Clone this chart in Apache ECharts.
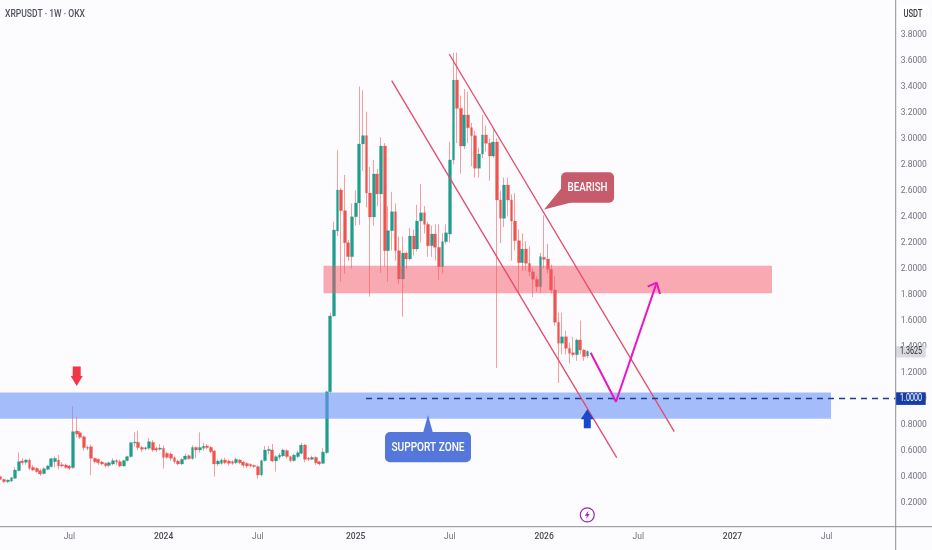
<!DOCTYPE html>
<html><head><meta charset="utf-8">
<style>html,body{margin:0;padding:0;background:#fcfcfe}#c{width:932px;height:550px}</style>
<script src="https://cdn.jsdelivr.net/npm/echarts@6/dist/echarts.min.js"></script>
</head><body><div id="c"></div>
<script>
const opens=[.399,.378,.36,.365,.386,.445,.519,.509,.527,.47,.463,.445,.422,.455,.476,.514,.527,.491,.488,.481,
.468,.75,.737,.706,.617,.629,.54,.532,.511,.501,.486,.496,.522,.514,.481,.522,.553,.658,.663,.624,
.612,.617,.663,.617,.609,.617,.578,.573,.545,.519,.496,.532,.56,.537,.624,.604,.617,.635,.624,.596,
.496,.501,.527,.519,.514,.506,.527,.511,.501,.494,.486,.476,.412,.522,.599,.604,.519,.547,.558,.599,
.553,.522,.553,.578,.642,.542,.532,.547,.514,.501,.583,1.052,1.635,2.288,2.604,2.445,2.198,2.091,2.398,2.504,
2.958,3.022,2.581,2.396,2.727,2.573,2.942,2.137,2.291,2.437,2.137,1.919,2.119,2.073,2.25,2.15,2.365,2.429,2.34,2.175,
2.265,2.163,2.014,2.206,2.265,2.835,3.45,3.232,2.942,3.181,3.083,3.022,2.771,2.881,3.027,2.965,2.865,2.973,2.527,2.386,
2.642,2.527,2.365,2.214,2.045,2.15,2.04,1.975,1.917,1.86,2.086,2.073,1.994,1.835,1.586,1.425,1.475,1.386,1.352,1.337,
1.45,1.373,1.327];
const closes=[.378,.36,.373,.391,.45,.514,.506,.527,.463,.45,.437,.419,.46,.481,.537,.54,.481,.481,.47,.463,
.745,.727,.701,.622,.624,.54,.514,.506,.496,.483,.506,.522,.511,.481,.522,.553,.66,.665,.622,.609,
.622,.668,.604,.604,.619,.547,.547,.54,.514,.496,.532,.558,.537,.624,.604,.624,.635,.622,.591,.496,
.519,.527,.506,.501,.501,.532,.506,.486,.481,.481,.476,.412,.522,.604,.609,.519,.553,.565,.604,.553,
.522,.565,.583,.642,.532,.532,.547,.506,.496,.588,1.052,1.635,2.296,2.604,2.445,2.198,2.091,2.398,2.504,2.958,
3.022,2.581,2.396,2.727,2.573,2.942,2.137,2.291,2.437,2.137,1.919,2.119,2.073,2.25,2.15,2.365,2.429,2.34,2.175,2.265,
2.163,2.014,2.206,2.275,2.835,3.45,3.232,2.942,3.181,3.083,3.022,2.771,2.881,3.027,2.963,2.865,2.973,2.527,2.386,2.642,
2.527,2.365,2.214,2.045,2.15,2.04,1.975,1.917,1.86,2.091,2.07,1.994,1.835,1.586,1.425,1.475,1.386,1.348,1.337,1.45,
1.373,1.322,1.3625];
const lows=[.372,.352,.35,.358,.38,.44,.49,.49,.45,.44,.43,.405,.415,.45,.47,.47,.455,.47,.46,.45,
.46,.7,.69,.6,.6,.41,.5,.49,.485,.47,.47,.485,.49,.47,.475,.515,.545,.63,.6,.59,
.6,.605,.59,.59,.6,.46,.535,.52,.5,.485,.49,.525,.53,.53,.54,.585,.6,.61,.58,.4,
.48,.49,.495,.485,.49,.495,.495,.47,.465,.47,.465,.385,.4,.515,.57,.51,.437,.53,.55,.54,
.51,.515,.54,.57,.51,.52,.525,.49,.485,.495,.575,1.04,1.63,2.25,1.898,1.96,2.06,2,2.33,2.335,
2.75,2.47,1.783,2.33,2.48,1.965,2.014,1.898,2.14,2.06,1.88,1.63,2,2.06,2.1,2.13,2.2,2.27,2.09,2.09,
2.06,1.91,1.96,2.19,2.2,2.8,2.965,2.73,2.92,2.965,2.785,2.7,2.7,2.85,2.9,2.675,2.85,1.235,2.195,2.32,
2.4,2.06,2.14,1.81,1.98,1.98,1.94,1.78,1.82,1.81,2,1.96,1.81,1.56,1.12,1.34,1.34,1.27,1.32,1.29,
1.34,1.29,1.31];
const highs=[.405,.382,.378,.397,.47,.585,.54,.535,.54,.49,.47,.46,.47,.49,.545,.555,.565,.51,.5,.49,
.94,.86,.75,.715,.64,.645,.545,.54,.52,.51,.515,.54,.535,.53,.53,.56,.665,.74,.753,.635,
.63,.695,.68,.63,.65,.64,.59,.585,.555,.53,.54,.575,.57,.64,.63,.74,.66,.65,.635,.605,
.53,.54,.545,.53,.525,.545,.535,.52,.51,.5,.49,.485,.53,.635,.635,.65,.565,.58,.615,.61,
.56,.575,.6,.66,.65,.55,.56,.555,.52,.62,1.06,1.66,2.36,2.91,2.62,2.72,2.22,2.5,2.6,3.4,
3.37,3.206,2.78,2.835,2.765,3.01,2.965,2.48,2.59,2.5,2.245,2.245,2.13,2.31,2.3,2.49,2.65,2.48,2.36,2.33,
2.34,2.34,2.27,2.34,2.975,3.66,3.66,3.33,3.38,3.36,3.12,3.06,2.93,3.18,3.1,3,3.07,3,2.6,2.7,
2.7,2.57,2.58,2.3,2.27,2.21,2.17,2,1.94,2.12,2.41,2.19,2.03,1.94,1.66,1.66,1.52,1.43,1.475,1.46,
1.6,1.38,1.37];

const tickWeeks=[19,45,71,98,124,150,176,202,228];
const tickLabels=['Jul','2024','Jul','2025','Jul','2026','Jul','2027','Jul'];
const priceTicks=[.2,.4,.6,.8,1,1.2,1.4,1.6,1.8,2,2.2,2.4,2.6,2.8,3,3.2,3.4,3.6,3.8];
const weekCount=247;

// overlays: [week, price] anchors on the hidden week axis
const zones=[[-.5,229.2,1.046,.845,'rgba(105,147,247,.6)'],[89.13,212.9,2.021,1.81,'rgba(244,85,100,.5)']];
const channelUpper=[[123.85,3.648],[185.94,.745]];
const channelLower=[[107.95,3.445],[170.05,.545]];
const projection=[[162.87,1.352],[169.85,.975],[181.09,1.891]];
const projectionHead=[[178.6,1.86],[181.09,1.891],[182,1.804]];
const supportLevel=[[100.86,1],[247.05,1]];
const lastPrice=1.3625, levelPrice=1;

const FONT='Roboto,"Liberation Sans",sans-serif';
const GREEN='#1f9e8f',RED='#ef5350';
const candles=opens.map((o,i)=>[o,closes[i],lows[i],highs[i]]);
const bodies=opens.map((o,i)=>[o,closes[i],Math.min(o,closes[i]),Math.max(o,closes[i])]);
const categories=Array.from({length:weekCount},(_,i)=>'W'+i);

const mctx=document.createElement('canvas').getContext('2d');
function fitted(text,font,width,x,y,fill,align){
  // a text element squeezed sideways to the condensed width of the reference typeface
  mctx.font=font;
  return {type:'text',x,y,scaleX:width/mctx.measureText(text).width,silent:true,
    style:{x:0,y:0,text,fill,font,align:align||'center',verticalAlign:'middle'}};
}
function overlayLine(data,color,width,extra){
  return Object.assign({type:'line',xAxisIndex:1,data,symbol:'none',silent:true,z:6,clip:false,
    lineStyle:{color,width}},extra||{});
}
function callout(x,y,bx,by,bw,bh,r,base,fill,text,tw){
  return {type:'group',children:[
    {type:'rect',shape:{x:bx,y:by,width:bw,height:bh,r},style:{fill}},
    {type:'polygon',shape:{points:[[x,y],base[0],base[1]]},style:{fill}},
    fitted(text,'500 13px '+FONT,tw,bx+bw/2,by+bh/2+.5,'#fff')
  ]};
}
function customOverlay(data,renderItem,z){
  return {type:'custom',xAxisIndex:1,data,renderItem,silent:true,z:z||7,clip:false,
    encode:{x:0,y:1}};
}

const chart=echarts.init(document.getElementById('c'),null,{renderer:'canvas'});
chart.setOption({
  animation:false,backgroundColor:'#fcfcfe',
  grid:{left:-1.28,top:-17.5,width:895,height:546,containLabel:false,outerBoundsMode:'none'},
  xAxis:[
    {type:'category',data:categories,boundaryGap:true,
      axisLine:{show:false},axisTick:{show:false},splitLine:{show:false},
      axisLabel:{margin:4,fontFamily:FONT,fontSize:8.5,color:'#70737e',hideOverlap:false,
        interval:(i)=>tickWeeks.includes(i),
        formatter:(v,i)=>{const l=tickLabels[tickWeeks.indexOf(i)];return l==='Jul'?l:'{y|'+l+'}';},
        rich:{y:{fontFamily:FONT,fontSize:8.5,fontWeight:500,color:'#45484f'}}}},
    {type:'value',show:false,min:-.5,max:246.5}
  ],
  yAxis:{type:'value',position:'right',min:0,max:4.2,interval:.2,offset:2,
    axisLine:{show:false},axisTick:{show:false},splitLine:{show:false},
    axisLabel:{margin:5,fontFamily:FONT,fontSize:8.5,color:'#70737e',showMinLabel:false,
      formatter:(v)=>priceTicks.some(t=>Math.abs(t-v)<1e-6)?v.toFixed(4):''}},
  graphic:[
    {type:'line',shape:{x1:0,y1:526.7,x2:932,y2:526.7},style:{stroke:'#8c8e96',lineWidth:1},silent:true,z:20},
    {type:'line',shape:{x1:895.7,y1:0,x2:895.7,y2:550},style:{stroke:'#8c8e96',lineWidth:1},silent:true,z:20},
    {type:'rect',shape:{x:899,y:5,width:30,height:19,r:3},style:{fill:'#ffffff'},silent:true,z:20},
    Object.assign(fitted('USDT','500 10px '+FONT,19,913,14.5,'#3a3d46'),{z:21}),
    Object.assign(fitted('XRPUSDT · 1W · OKX','500 10.5px '+FONT,80,5,14,'#50535e','left'),{z:21})
  ],
  series:[
    {type:'candlestick',name:'wicks',data:candles,barWidth:1,silent:true,z:2,
      itemStyle:{color:'rgba(239,83,80,.55)',color0:'rgba(239,83,80,.55)',
        borderColor:'rgba(239,83,80,.55)',borderColor0:'rgba(239,83,80,.55)',borderWidth:1}},
    {type:'candlestick',name:'bodies',data:bodies,barWidth:3.3,silent:true,z:3,
      itemStyle:{color:GREEN,color0:RED,borderColor:GREEN,borderColor0:RED,borderWidth:.25}},
    {type:'custom',xAxisIndex:1,data:zones,silent:true,z:4,clip:false,encode:{x:[0,1],y:[2,3]},
      renderItem:(p,api)=>{
        const a=api.coord([api.value(0),api.value(2)]),b=api.coord([api.value(1),api.value(3)]);
        return {type:'rect',shape:{x:a[0],y:a[1],width:b[0]-a[0],height:b[1]-a[1]},
          style:{fill:zones[p.dataIndex][4]}};
      }},
    overlayLine(channelUpper,'#e34a6c',1.3),
    overlayLine(channelLower,'#e34a6c',1.3),
    overlayLine(supportLevel,'#1c3f94',1.3,{lineStyle:{color:'#1c3f94',width:1.3,type:[6,5]}}),
    overlayLine(projection,'#e816c4',2),
    overlayLine(projectionHead,'#e816c4',2),
    customOverlay([[21.02,1.096]],(p,api)=>{
      const c=api.coord([api.value(0),api.value(1)]),x=c[0],y=c[1];
      return {type:'polygon',shape:{points:[[x,y],[x-6,y-10],[x-4,y-10],[x-4,y-19.5],[x+4,y-19.5],[x+4,y-10],[x+6,y-10]]},style:{fill:'#f23645'}};
    }),
    customOverlay([[161.93,.917]],(p,api)=>{
      const c=api.coord([api.value(0),api.value(1)]),x=c[0],y=c[1];
      return {type:'polygon',shape:{points:[[x,y],[x-6.5,y+10],[x-3.5,y+10],[x-3.5,y+19],[x+3.5,y+19],[x+3.5,y+10],[x+6.5,y+10]]},style:{fill:'#1848cc'}};
    }),
    customOverlay([[150,2.454]],(p,api)=>{
      const c=api.coord([api.value(0),api.value(1)]);
      return callout(c[0],c[1],c[0]+17,c[1]-37.2,53,30.4,5,[[c[0]+17.5,c[1]-21.5],[c[0]+27,c[1]-7]],'#c65b6b','BEARISH',40);
    }),
    customOverlay([[117.97,.873]],(p,api)=>{
      const c=api.coord([api.value(0),api.value(1)]);
      return callout(c[0],c[1],c[0]-43,c[1]+17,86,30.3,5,[[c[0]-5,c[1]+18],[c[0]+5,c[1]+18]],'#5577dc','SUPPORT ZONE',73);
    }),
    customOverlay([[161.93,.105]],(p,api)=>{
      const c=api.coord([api.value(0),api.value(1)]),x=c[0],y=c[1];
      return {type:'group',children:[
        {type:'circle',shape:{cx:x,cy:y,r:7},style:{fill:'#fff',stroke:'#9c27b0',lineWidth:1.2}},
        {type:'polygon',shape:{points:[[x+1.5,y-4.5],[x-2.5,y+.8],[x-.2,y+.8],[x-1.5,y+4.5],[x+2.5,y-.8],[x+.2,y-.8]]},style:{fill:'#9c27b0'}}
      ]};
    }),
    customOverlay([[246.5,lastPrice]],(p,api)=>{
      const c=api.coord([api.value(0),api.value(1)]);
      return {type:'group',children:[
        {type:'rect',shape:{x:896,y:c[1]-5.2,width:29.7,height:11.4,r:1},style:{fill:'#d9dadf'}},
        fitted(api.value(1).toFixed(4),'10px '+FONT,22,911,c[1]+.6,'#2a2d36')
      ]};
    },9),
    customOverlay([[246.5,levelPrice]],(p,api)=>{
      const c=api.coord([api.value(0),api.value(1)]);
      return {type:'group',children:[
        {type:'rect',shape:{x:896,y:c[1]-6.2,width:29.7,height:12.6},style:{fill:'#143da6'}},
        fitted(api.value(1).toFixed(4),'10px '+FONT,22,911,c[1]+.2,'#fff')
      ]};
    },9)
  ]
});
</script></body></html>
